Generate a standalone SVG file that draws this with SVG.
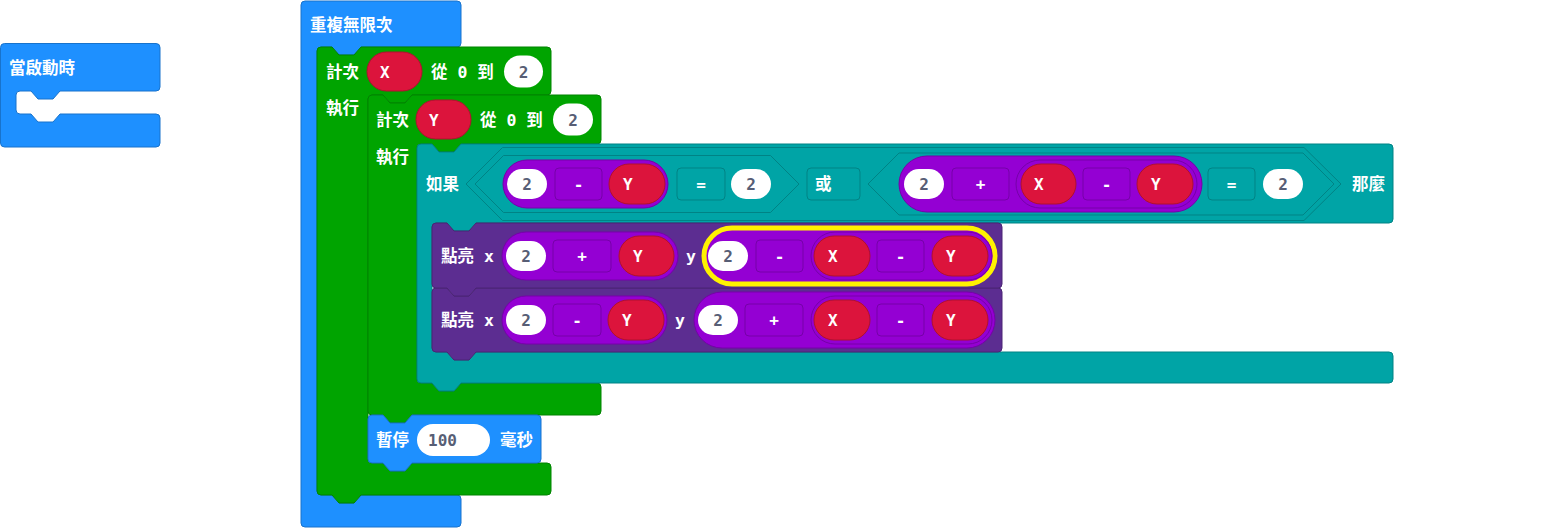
<svg xmlns="http://www.w3.org/2000/svg" width="1549" height="528" viewBox="0 0 1549 528">
<style>
.t{font-family:"DejaVu Sans Mono","Noto Sans CJK TC",monospace;font-size:16.5px;font-weight:bold;fill:#fff}
.v{font-family:"DejaVu Sans Mono",monospace;font-size:16px;font-weight:bold;fill:#fff}
.op{font-family:"DejaVu Sans Mono",monospace;font-size:16px;font-weight:bold;fill:#fff;text-anchor:middle}
.n{font-family:"DejaVu Sans Mono",monospace;font-size:16px;font-weight:bold;fill:#575e75;text-anchor:middle}
.nl{font-family:"DejaVu Sans Mono",monospace;font-size:16px;font-weight:bold;fill:#575e75;text-anchor:start}
.blue{fill:#1e90ff;stroke:#1873cc;stroke-width:1}
.green{fill:#00a400;stroke:#008300;stroke-width:1}
.teal{fill:#00a4a6;stroke:#008385;stroke-width:1}
.led{fill:#5c2d91;stroke:#4a2474;stroke-width:1}
.mp{fill:#9400d3;stroke:#7600a9;stroke-width:1}
.red{fill:#dc143c;stroke:#b0102f;stroke-width:1}
.w{fill:#fff}
.hl{stroke:#fff200;stroke-width:5}
</style>

<g id="on-start">
<path class="blue" d="M0.5,47.5 Q0.5,43.5 4.5,43.5 H156 Q160,43.5 160,47.5 V87 Q160,91 156,91 H60 l-7,8 h-15 l-7,-8 H20 Q16,91 16,95 V110 Q16,114 20,114 H31 l7,8 h15 l7,-8 H156 Q160,114 160,118 V143 Q160,147 156,147 H4.5 Q0.5,147 0.5,143 Z"/>
<text class="t" x="9" y="74">當啟動時</text>
</g>

<g id="forever">
<path class="blue" d="M301,5 Q301,1 305,1 H457 Q461,1 461,5 V43 Q461,47 457,47 H361 l-7,8 h-15 l-7,-8 H321 Q317,47 317,51 V491 Q317,495 321,495 H332 l7,8 h15 l7,-8 H457 Q461,495 461,499 V523 Q461,527 457,527 H305 Q301,527 301,523 Z"/>
<text class="t" x="310" y="31">重複無限次</text>
</g>

<g id="for-x">
<path class="green" d="M317,51 Q317,47 321,47 H332 l7,8 h15 l7,-8 H547 Q551,47 551,51 V91 Q551,95 547,95 H412 l-7,8 h-15 l-7,-8 H372 Q368,95 368,99 V459 Q368,463 372,463 H383 l7,8 h15 l7,-8 H547 Q551,463 551,467 V491 Q551,495 547,495 H361 l-7,8 h-15 l-7,-8 H321 Q317,495 317,491 Z"/>
<text class="t" x="326" y="77.5">計次</text>
<rect class="red" x="367" y="52" width="55" height="39" rx="19.5"/>
<text class="v" x="380" y="77.5">X</text>
<text class="t" x="431" y="77.5">從 0 到</text>
<rect class="w" x="504" y="55.5" width="39" height="32" rx="16"/>
<text class="n" x="523.5" y="77.5">2</text>
<text class="t" x="326" y="114">執行</text>
</g>

<g id="for-y">
<path class="green" d="M368,99 Q368,95 372,95 H383 l7,8 h15 l7,-8 H597 Q601,95 601,99 V140 Q601,144 597,144 H461 l-7,8 h-15 l-7,-8 H421 Q417,144 417,148 V379 Q417,383 421,383 H432 l7,8 h15 l7,-8 H597 Q601,383 601,387 V411 Q601,415 597,415 H412 l-7,8 h-15 l-7,-8 H372 Q368,415 368,411 Z"/>
<text class="t" x="376" y="125.5">計次</text>
<rect class="red" x="416" y="100" width="55" height="39" rx="19.5"/>
<text class="v" x="429" y="125.5">Y</text>
<text class="t" x="480" y="125.5">從 0 到</text>
<rect class="w" x="553" y="103.5" width="40" height="32" rx="16"/>
<text class="n" x="573" y="125.5">2</text>
<text class="t" x="376" y="163">執行</text>
</g>

<g id="if">
<path class="teal" d="M417,148 Q417,144 421,144 H432 l7,8 h15 l7,-8 H1389 Q1393,144 1393,148 V219 Q1393,223 1389,223 H476 l-7,8 h-15 l-7,-8 H436 Q432,223 432,227 V348 Q432,352 436,352 H447 l7,8 h15 l7,-8 H1389 Q1393,352 1393,356 V379 Q1393,383 1389,383 H461 l-7,8 h-15 l-7,-8 H421 Q417,383 417,379 Z"/>
<text class="t" x="426" y="190">如果</text>
<path class="teal" d="M466,184 L502.5,147.5 H1304 L1341,184 L1304,220.5 H502.5 Z"/>
<path class="teal" d="M475,184 L503.5,155.5 H770.5 L799,184 L770.5,212.5 H503.5 Z"/>
<rect class="mp" x="503" y="160" width="165" height="48" rx="24"/>
<rect class="w" x="507" y="169" width="40" height="30" rx="15"/>
<text class="n" x="527" y="189.8">2</text>
<rect class="mp" x="555" y="168" width="47" height="32" rx="4"/>
<text class="op" x="578.5" y="189.8">-</text>
<rect class="red" x="609" y="164" width="56" height="40" rx="20"/>
<text class="v" x="623" y="189.8">Y</text>
<rect class="teal" x="677" y="168" width="48" height="32" rx="4"/>
<text class="op" x="701" y="189.8">=</text>
<rect class="w" x="731" y="169" width="40" height="30" rx="15"/>
<text class="n" x="751" y="189.8">2</text>
<rect class="teal" x="807" y="168" width="53" height="32" rx="4"/>
<text class="t" x="815" y="190">或</text>
<path class="teal" d="M868,184 L899,153 H1303 L1334,184 L1303,215 H899 Z"/>
<rect class="mp" x="899" y="156" width="303" height="56" rx="28"/>
<rect class="w" x="904" y="169" width="40" height="30" rx="15"/>
<text class="n" x="924" y="189.8">2</text>
<rect class="mp" x="952" y="168" width="57" height="32" rx="4"/>
<text class="op" x="980.5" y="189.8">+</text>
<rect class="mp" x="1016" y="160" width="181" height="48" rx="24"/>
<rect class="red" x="1021" y="164" width="55" height="40" rx="20"/>
<text class="v" x="1034" y="189.8">X</text>
<rect class="mp" x="1083" y="168" width="47" height="32" rx="4"/>
<text class="op" x="1106.5" y="189.8">-</text>
<rect class="red" x="1137" y="164" width="56" height="40" rx="20"/>
<text class="v" x="1151" y="189.8">Y</text>
<rect class="teal" x="1208" y="168" width="47" height="32" rx="4"/>
<text class="op" x="1231.5" y="189.8">=</text>
<rect class="w" x="1263" y="169" width="40" height="30" rx="15"/>
<text class="n" x="1283" y="189.8">2</text>
<text class="t" x="1352" y="190">那麼</text>
</g>

<g id="plot-2">
<path class="led" d="M432,292 Q432,288 436,288 H447 l7,8 h15 l7,-8 H998 Q1002,288 1002,292 V348 Q1002,352 998,352 H476 l-7,8 h-15 l-7,-8 H436 Q432,352 432,348 Z"/>
<text class="t" x="441" y="326">點亮 x</text>
<rect class="mp" x="502" y="296" width="165" height="48" rx="24"/>
<rect class="w" x="506" y="305" width="40" height="30" rx="15"/>
<text class="n" x="526" y="325.8">2</text>
<rect class="mp" x="553" y="304" width="48" height="32" rx="4"/>
<text class="op" x="577" y="325.8">-</text>
<rect class="red" x="608" y="300" width="56" height="40" rx="20"/>
<text class="v" x="622" y="325.8">Y</text>
<text class="t" x="675" y="326">y</text>
<rect class="mp" x="694" y="292" width="301" height="56" rx="28"/>
<rect class="w" x="698" y="305" width="40" height="30" rx="15"/>
<text class="n" x="718" y="325.8">2</text>
<rect class="mp" x="745" y="304" width="58" height="32" rx="4"/>
<text class="op" x="774" y="325.8">+</text>
<rect class="mp" x="811" y="296" width="181" height="48" rx="24"/>
<rect class="red" x="814" y="300" width="56" height="40" rx="20"/>
<text class="v" x="828" y="325.8">X</text>
<rect class="mp" x="877" y="304" width="47" height="32" rx="4"/>
<text class="op" x="900.5" y="325.8">-</text>
<rect class="red" x="932" y="300" width="56" height="40" rx="20"/>
<text class="v" x="946" y="325.8">Y</text>
</g>

<g id="plot-1">
<path class="led" d="M432,227 Q432,223 436,223 H447 l7,8 h15 l7,-8 H998 Q1002,223 1002,227 V284 Q1002,288 998,288 H476 l-7,8 h-15 l-7,-8 H436 Q432,288 432,284 Z"/>
<text class="t" x="441" y="262">點亮 x</text>
<rect class="mp" x="502" y="232" width="176" height="48" rx="24"/>
<rect class="w" x="506" y="241" width="40" height="30" rx="15"/>
<text class="n" x="526" y="261.8">2</text>
<rect class="mp" x="553" y="240" width="58" height="32" rx="4"/>
<text class="op" x="582" y="261.8">+</text>
<rect class="red" x="619" y="236" width="55" height="40" rx="20"/>
<text class="v" x="633" y="261.8">Y</text>
<text class="t" x="686" y="262">y</text>
<rect class="mp hl" x="704" y="228" width="291" height="56" rx="28"/>
<rect class="w" x="708" y="241" width="40" height="30" rx="15"/>
<text class="n" x="728" y="261.8">2</text>
<rect class="mp" x="756" y="240" width="47" height="32" rx="4"/>
<text class="op" x="779.5" y="261.8">-</text>
<rect class="mp" x="811" y="232" width="181" height="48" rx="24"/>
<rect class="red" x="814" y="236" width="56" height="40" rx="20"/>
<text class="v" x="828" y="261.8">X</text>
<rect class="mp" x="877" y="240" width="47" height="32" rx="4"/>
<text class="op" x="900.5" y="261.8">-</text>
<rect class="red" x="932" y="236" width="56" height="40" rx="20"/>
<text class="v" x="946" y="261.8">Y</text>
</g>

<g id="pause">
<path class="blue" d="M368,419 Q368,415 372,415 H383 l7,8 h15 l7,-8 H537 Q541,415 541,419 V459 Q541,463 537,463 H412 l-7,8 h-15 l-7,-8 H372 Q368,463 368,459 Z"/>
<text class="t" x="376" y="446">暫停</text>
<rect class="w" x="417" y="424" width="73" height="32" rx="16"/>
<text class="nl" x="428" y="445.8">100</text>
<text class="t" x="500" y="446">毫秒</text>
</g>

<g id="connectors"/>
</svg>
